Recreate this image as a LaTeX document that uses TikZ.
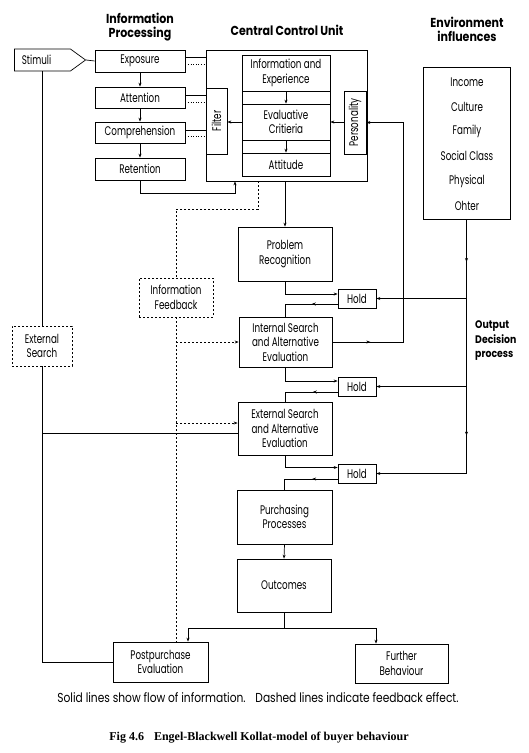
\documentclass[tikz,border=0pt]{standalone}
\usepackage{fontspec}
\setmainfont{Poppins}[FakeStretch=0.7]
\newfontfamily\hdrfont{Poppins}[FakeStretch=0.85]
\newfontfamily\notefont{Poppins}[FakeStretch=0.82]
\newfontfamily\capfont{Liberation Serif}
\usetikzlibrary{arrows.meta,shapes.symbols,decorations.markings,calc}
\tikzset{
  txt/.style={font=\fontsize{12.5}{14.5}\selectfont, inner sep=0pt, align=center},
  hdr/.style={font=\hdrfont\fontsize{13}{14}\selectfont\bfseries, inner sep=0pt, align=center},
  ln/.style={line width=0.7pt},
  box/.style={draw, ln, rectangle, txt},
  dbox/.style={draw, line width=0.7pt, dash pattern=on 2pt off 2pt, rectangle, txt},
  arr/.style={ln, -{Stealth[length=4pt,width=3pt]}},
  dsh/.style={line width=0.7pt, dash pattern=on 2pt off 2pt},
  dotl/.style={line width=0.7pt, dash pattern=on 1pt off 1.6pt},
  midarr/.style={postaction={decorate}, decoration={markings, mark=at position #1 with {\arrow{Stealth[length=4pt,width=3pt]}}}},
}
\begin{document}
\begin{tikzpicture}[x=1pt,y=-1pt]
\useasboundingbox (0,0) rectangle (528,753);

% headers
\node[hdr] (hip) at (140,27) {Information\\Processing};
\node[hdr] (hccu) at (287,30) {Central Control Unit};
\node[hdr] (henv) at (467,29) {Environment\\influences};

% stimuli
\node[draw, ln, txt, signal, signal to=east, signal pointer angle=72, minimum width=71, minimum height=22] (stim) at (42.5,60) {Stimuli\hspace{12pt}};

% information processing
\node[box, minimum width=90, minimum height=22] (exposure) at (140,61) {Exposure};
\node[box, minimum width=90, minimum height=21] (attention) at (140,97.5) {Attention};
\node[box, minimum width=90, minimum height=21] (comprehension) at (140,132.5) {Comprehension};
\node[box, minimum width=90, minimum height=22] (retention) at (140,169) {Retention};

% central control unit
\node[box, minimum width=161, minimum height=131] (ccu) at (286.5,115.5) {};
\node[box, minimum width=21, minimum height=66] (filter) at (216.5,121) {\rotatebox{90}{Filter}};
\node[box, minimum width=88, minimum height=36] (iande) at (286,73) {Information and\\Experience};
\node[box, minimum width=88, minimum height=13] (gap1) at (286,97.5) {};
\node[box, minimum width=88, minimum height=36] (evalcrit) at (286,122) {Evaluative\\Critieria};
\node[box, minimum width=88, minimum height=13] (gap2) at (286,146.5) {};
\node[box, minimum width=88, minimum height=23] (attitude) at (286,164.5) {Attitude};
\node[box, minimum width=22, minimum height=63] (personality) at (355,122.5) {\rotatebox{90}{Personality}};

% environment
\node[box, minimum width=87, minimum height=152] (env) at (466.5,143) {};
\node[txt] (inc) at (467,82) {Income};
\node[txt] (cul) at (467,107) {Culture};
\node[txt] (fam) at (467,131) {Family};
\node[txt] (soc) at (467,156) {Social Class};
\node[txt] (phy) at (467,181) {Physical};
\node[txt] (oth) at (467,206) {Ohter};
\node[hdr, font=\hdrfont\fontsize{11}{14.5}\selectfont\bfseries, align=left, anchor=west] (odp) at (475,341) {Output\\Decision\\process};

% decision process
\node[box, minimum width=94, minimum height=54] (pr) at (285,254) {Problem\\Recognition};
\node[box, minimum width=38, minimum height=19] (hold1) at (357,298.5) {Hold};
\node[box, minimum width=93, minimum height=50] (is) at (285.5,342) {Internal Search\\and Alternative\\Evaluation};
\node[box, minimum width=38, minimum height=19] (hold2) at (357,386.5) {Hold};
\node[box, minimum width=94, minimum height=53] (es) at (285,428.5) {External Search\\and Alternative\\Evaluation};
\node[box, minimum width=38, minimum height=19] (hold3) at (357,473.5) {Hold};
\node[box, minimum width=95, minimum height=54] (pp) at (284.5,517) {Purchasing\\Processes};
\node[box, minimum width=94, minimum height=53] (outcomes) at (284,585.5) {Outcomes};
\node[box, minimum width=95, minimum height=40] (post) at (160.5,662) {Postpurchase\\Evaluation};
\node[box, minimum width=93, minimum height=39] (further) at (401.5,663.5) {Further\\Behaviour};

% dashed boxes
\node[dbox, minimum width=60, minimum height=40] (extsearch) at (42,346) {External\\Search};
\node[dbox, minimum width=74, minimum height=39] (infofb) at (176,297.5) {Information\\Feedback};

% captions
\node[font=\notefont\fontsize{13}{15}\selectfont, inner sep=0pt] (note) at (258,698) {Solid lines show flow of information.\hspace{6pt} Dashed lines indicate feedback effect.};
\node[font=\capfont\bfseries\fontsize{12}{14}\selectfont, inner sep=0pt] (fig) at (259,738) {Fig 4.6\hspace{7pt} Engel-Blackwell Kollat-model of buyer behaviour};

% ---- connectors ----
\draw[ln] (stim.east) -- (exposure.west);
\draw[arr] (exposure.south) -- (attention.north);
\draw[arr] (attention.south) -- (comprehension.north);
\draw[arr] (comprehension.south) -- (retention.north);

\coordinate (ex1) at ([yshift=4pt]exposure.east);
\coordinate (ex2) at ([yshift=-3pt]exposure.east);
\draw[ln] (ex1) -- (ex1 -| ccu.west);
\draw[dotl] (ex2) -- (ex2 -| ccu.west);
\coordinate (at1) at ([yshift=2.5pt]attention.east);
\coordinate (at2) at ([yshift=-4.5pt]attention.east);
\draw[ln] (at1) -- (at1 -| filter.west);
\draw[dotl] (at2) -- (at2 -| filter.west);
\coordinate (co1) at ([yshift=2.5pt]comprehension.east);
\coordinate (co2) at ([yshift=-3.5pt]comprehension.east);
\draw[ln] (co1) -- (co1 -| filter.west);
\draw[dotl] (co2) -- (co2 -| filter.west);

\draw[arr] (iande.south) -- (evalcrit.north);
\draw[arr] (evalcrit.south) -- (attitude.north);
\draw[arr] (evalcrit.west) -- (evalcrit.west -| filter.east);
\draw[arr] (personality.west |- evalcrit.east) -- (evalcrit.east);

\coordinate (ccuin) at ([xshift=-51.5pt]ccu.south);
\draw[arr] (retention.south) -- ++(0,13) -| (ccuin);

\draw[arr] (pr.north |- ccu.south) -- (pr.north);

% feedback (dashed)
\coordinate (fbtop) at ([xshift=-28.5pt]ccu.south);
\draw[dsh] (fbtop) -- ++(0,28) -| (infofb.north);
\draw[dsh] (infofb.south) -- (infofb.south |- post.north);
\draw[dsh, -{Stealth[length=4pt,width=3pt]}] (infofb.south |- is.west) -- (is.west);
\coordinate (esin) at ([yshift=5.5pt]es.west);
\draw[dsh, -{Stealth[length=4pt,width=3pt]}] (infofb.south |- esin) -- (esin);

% external search line
\draw[ln] (stim.south -| extsearch.north) -- (extsearch.north);
\draw[ln] (extsearch.south) |- (post.west);
\coordinate (esin2) at ([yshift=-4.5pt]es.west);
\draw[ln] (extsearch.north |- esin2) -- (esin2);

% holds
\coordinate (h1in) at ([yshift=4.5pt]hold1.west);
\coordinate (h1out) at ([yshift=-5.5pt]hold1.west);
\draw[arr] (pr.south) |- (h1in);
\draw[ln, midarr=0.4] (h1out) -| (is.north);
\coordinate (h2in) at ([yshift=5.5pt]hold2.west);
\coordinate (h2out) at ([yshift=-5.5pt]hold2.west);
\draw[arr] (is.south) |- (h2in);
\draw[ln, midarr=0.4] (h2out) -| (es.north);
\coordinate (h3in) at ([yshift=6pt]hold3.west);
\coordinate (h3out) at ([yshift=-5.5pt]hold3.west);
\draw[arr] (es.south) |- (h3in);
\draw[ln, midarr=0.4] (h3out) -| (pp.north);

% environment output
\draw[arr, postaction={decorate}, decoration={markings,
   mark=at position 0.124 with {\arrow{Stealth[length=4pt,width=3pt]}},
   mark=at position 0.628 with {\arrow{Stealth[length=4pt,width=3pt]}}}]
   (env.south) |- (hold3.east);
\draw[arr] (env.south |- hold1.east) -- (hold1.east);
\draw[arr] (env.south |- hold2.east) -- (hold2.east);

% internal search to personality
\draw[arr, midarr=0.116] (is.east) -- ++(71,0) |- (personality.east);

% purchase and outcomes
\draw[arr] (pp.south) -- (outcomes.north);
\coordinate (ppin) at ([xshift=27.5pt]post.north);
\coordinate (fbin) at ([xshift=-25.5pt]further.north);
\draw[arr] (outcomes.south) -- ++(0,16) -| (ppin);
\draw[arr] (outcomes.south) ++(0,16) -| (fbin);
\end{tikzpicture}
\end{document}
